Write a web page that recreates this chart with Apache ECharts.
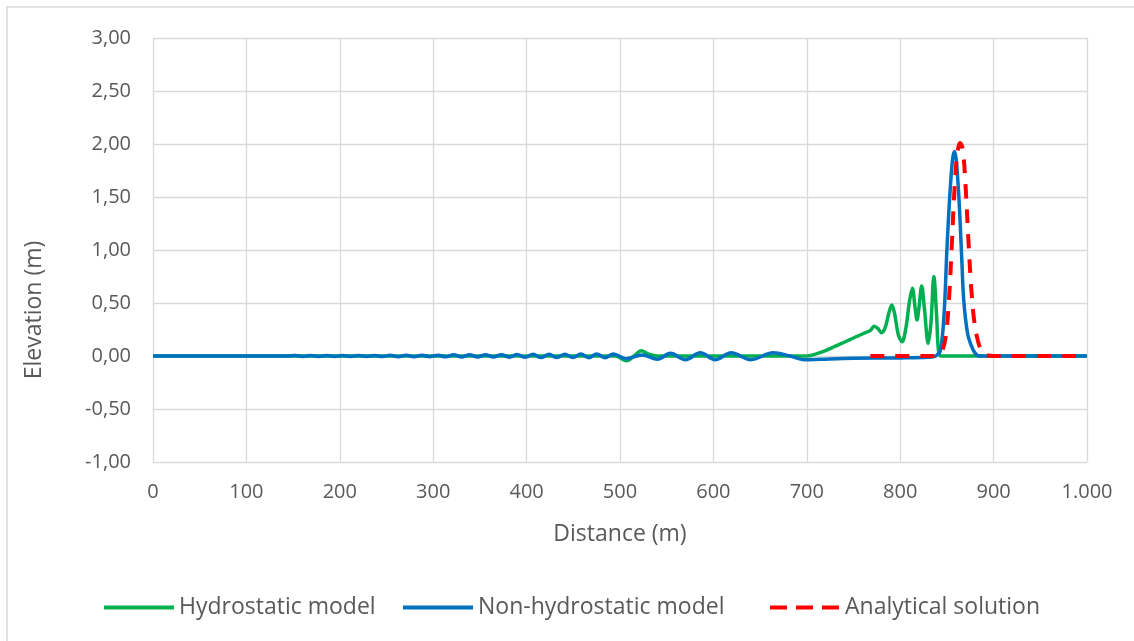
<!DOCTYPE html>
<html>
<head>
<meta charset="utf-8">
<script src="https://cdn.jsdelivr.net/npm/echarts@6/dist/echarts.min.js"></script>
<style>
  html, body { margin: 0; padding: 0; background: #ffffff; }
  #chart { width: 1134px; height: 641px; }
</style>
</head>
<body>
<div id="chart"></div>
<script>
// Free-surface elevation along the channel: [distance (m), elevation (m)]
const hydrostatic = [
  [0, 0], [495, 0], [507, -0.045], [515, 0], [523, 0.05], [530, 0.02], [540, 0],
  [700, 0], [710, 0.02], [720, 0.05], [730, 0.09], [740, 0.13], [750, 0.17],
  [760, 0.21], [768, 0.24], [772, 0.28], [776, 0.26], [780, 0.22], [784, 0.27],
  [788, 0.41], [791, 0.48], [794, 0.4], [798, 0.2], [802, 0.135], [806, 0.26],
  [810, 0.52], [813, 0.64], [816, 0.45], [818, 0.34], [820, 0.45], [823, 0.66],
  [826, 0.44], [830, 0.12], [833, 0.32], [836, 0.75], [839, 0.38], [841, 0.05],
  [844, 0], [1000, 0]
];

const nonHydrostatic = [
  [0, 0], [144, 0],
  [152, 0.004], [160.5, -0.004], [169, 0.004], [177.5, -0.004], [186, 0.004],
  [194.5, -0.004], [203, 0.004], [211.5, -0.004], [220, 0.004], [228.5, -0.004],
  [237, 0.004], [245.5, -0.005], [254, 0.007], [262.5, -0.006], [271, 0.007],
  [279.5, -0.006], [288, 0.007], [296.5, -0.006], [305, 0.008], [313.5, -0.008],
  [322, 0.011], [330.5, -0.01], [339, 0.011], [347.5, -0.01], [356, 0.011],
  [364.5, -0.01], [373, 0.012], [381.5, -0.011], [390, 0.013], [398.5, -0.012],
  [407, 0.016], [415.5, -0.014], [424, 0.016], [432.5, -0.014], [441, 0.017],
  [449.5, -0.015], [458, 0.018], [466.5, -0.016], [475, 0.02], [484, -0.016],
  [493, 0.02], [506, -0.025], [524, 0.01], [540, -0.03], [554, 0.025],
  [570, -0.035], [586, 0.03], [602, -0.035], [619, 0.03], [640, -0.035],
  [664, 0.03], [682, 0.0], [697, -0.035], [715, -0.03], [750, -0.022],
  [800, -0.018], [830, -0.012], [838, 0.0], [843, 0.05], [847, 0.4],
  [850, 1.0], [853, 1.5], [856, 1.85], [858, 1.93], [860, 1.85], [863, 1.47],
  [866, 0.9], [868, 0.53], [872, 0.22], [876, 0.1], [880, 0.03], [885, 0],
  [1000, 0]
];

const analytical = [
  [768, 0], [835, 0], [840, 0.01], [845, 0.05], [849, 0.2], [852, 0.5],
  [855, 1.0], [858, 1.55], [861, 1.9], [864, 2.01], [867, 1.95], [870, 1.6],
  [873, 1.1], [876, 0.65], [879, 0.35], [883, 0.15], [887, 0.05], [892, 0.01],
  [900, 0], [1000, 0]
];

const seriesNames = ['Hydrostatic model', 'Non-hydrostatic model', 'Analytical solution'];
const seriesColors = ['#00b050', '#0070c0', '#ff0000'];

const FONT = '"Open Sans", "DejaVu Sans", sans-serif';
const TEXT = '#595959';
const GRID = '#d9d9d9';

const chart = echarts.init(document.getElementById('chart'), null, { renderer: 'canvas' });

// One legend block per series, each with a plain line key (no marker)
function legendAt(name, left, lineType) {
  return {
    data: [name],
    left: left,
    top: 591,
    itemWidth: 70,
    itemHeight: 14,
    selectedMode: false,
    itemStyle: { opacity: 0 },
    lineStyle: { width: 4, type: lineType },
    textStyle: { fontFamily: FONT, fontSize: 23, color: TEXT }
  };
}

chart.setOption({
  animation: false,
  backgroundColor: '#ffffff',
  graphic: [{
    type: 'rect',
    shape: { x: 7, y: 7, width: 1140, height: 640 },
    style: { fill: 'none', stroke: GRID, lineWidth: 1.5 },
    silent: true
  }],
  grid: { left: 153, right: 47, top: 38, bottom: 179, containLabel: false },
  legend: [
    legendAt(seriesNames[0], 97, 'solid'),
    legendAt(seriesNames[1], 396, 'solid'),
    legendAt(seriesNames[2], 763, [17, 9])
  ],
  xAxis: {
    type: 'value',
    min: 0, max: 1000, interval: 100,
    name: 'Distance (m)',
    nameLocation: 'middle',
    nameGap: 61,
    nameTextStyle: { fontFamily: FONT, fontSize: 23, color: TEXT },
    axisLine: { show: false },
    axisTick: { show: false },
    axisLabel: {
      fontFamily: FONT, fontSize: 20, color: TEXT, margin: 20,
      formatter: v => v >= 1000 ? Math.floor(v / 1000) + '.' + String(v % 1000).padStart(3, '0') : String(v)
    },
    splitLine: { show: true, lineStyle: { color: GRID, width: 1.3 } }
  },
  yAxis: {
    type: 'value',
    min: -1, max: 3, interval: 0.5,
    name: 'Elevation (m)',
    nameLocation: 'middle',
    nameGap: 107,
    nameTextStyle: { fontFamily: FONT, fontSize: 23, color: TEXT, padding: [0, 120, 0, 0] },
    axisLine: { show: false },
    axisTick: { show: false },
    axisLabel: {
      fontFamily: FONT, fontSize: 20, color: TEXT, margin: 22,
      formatter: v => v.toFixed(2).replace('.', ',')
    },
    splitLine: { show: true, lineStyle: { color: GRID, width: 1.3 } }
  },
  series: [
    {
      name: seriesNames[0], type: 'line', data: hydrostatic,
      showSymbol: false, symbol: 'none', smooth: 0.35,
      lineStyle: { color: seriesColors[0], width: 3.5 },
      itemStyle: { color: seriesColors[0] }
    },
    {
      name: seriesNames[1], type: 'line', data: nonHydrostatic,
      showSymbol: false, symbol: 'none', smooth: 0.35,
      lineStyle: { color: seriesColors[1], width: 3.5 },
      itemStyle: { color: seriesColors[1] }
    },
    {
      name: seriesNames[2], type: 'line', data: analytical,
      showSymbol: false, symbol: 'none', smooth: 0.35,
      lineStyle: { color: seriesColors[2], width: 4, type: [14, 11] },
      itemStyle: { color: seriesColors[2] }
    }
  ]
});
</script>
</body>
</html>
